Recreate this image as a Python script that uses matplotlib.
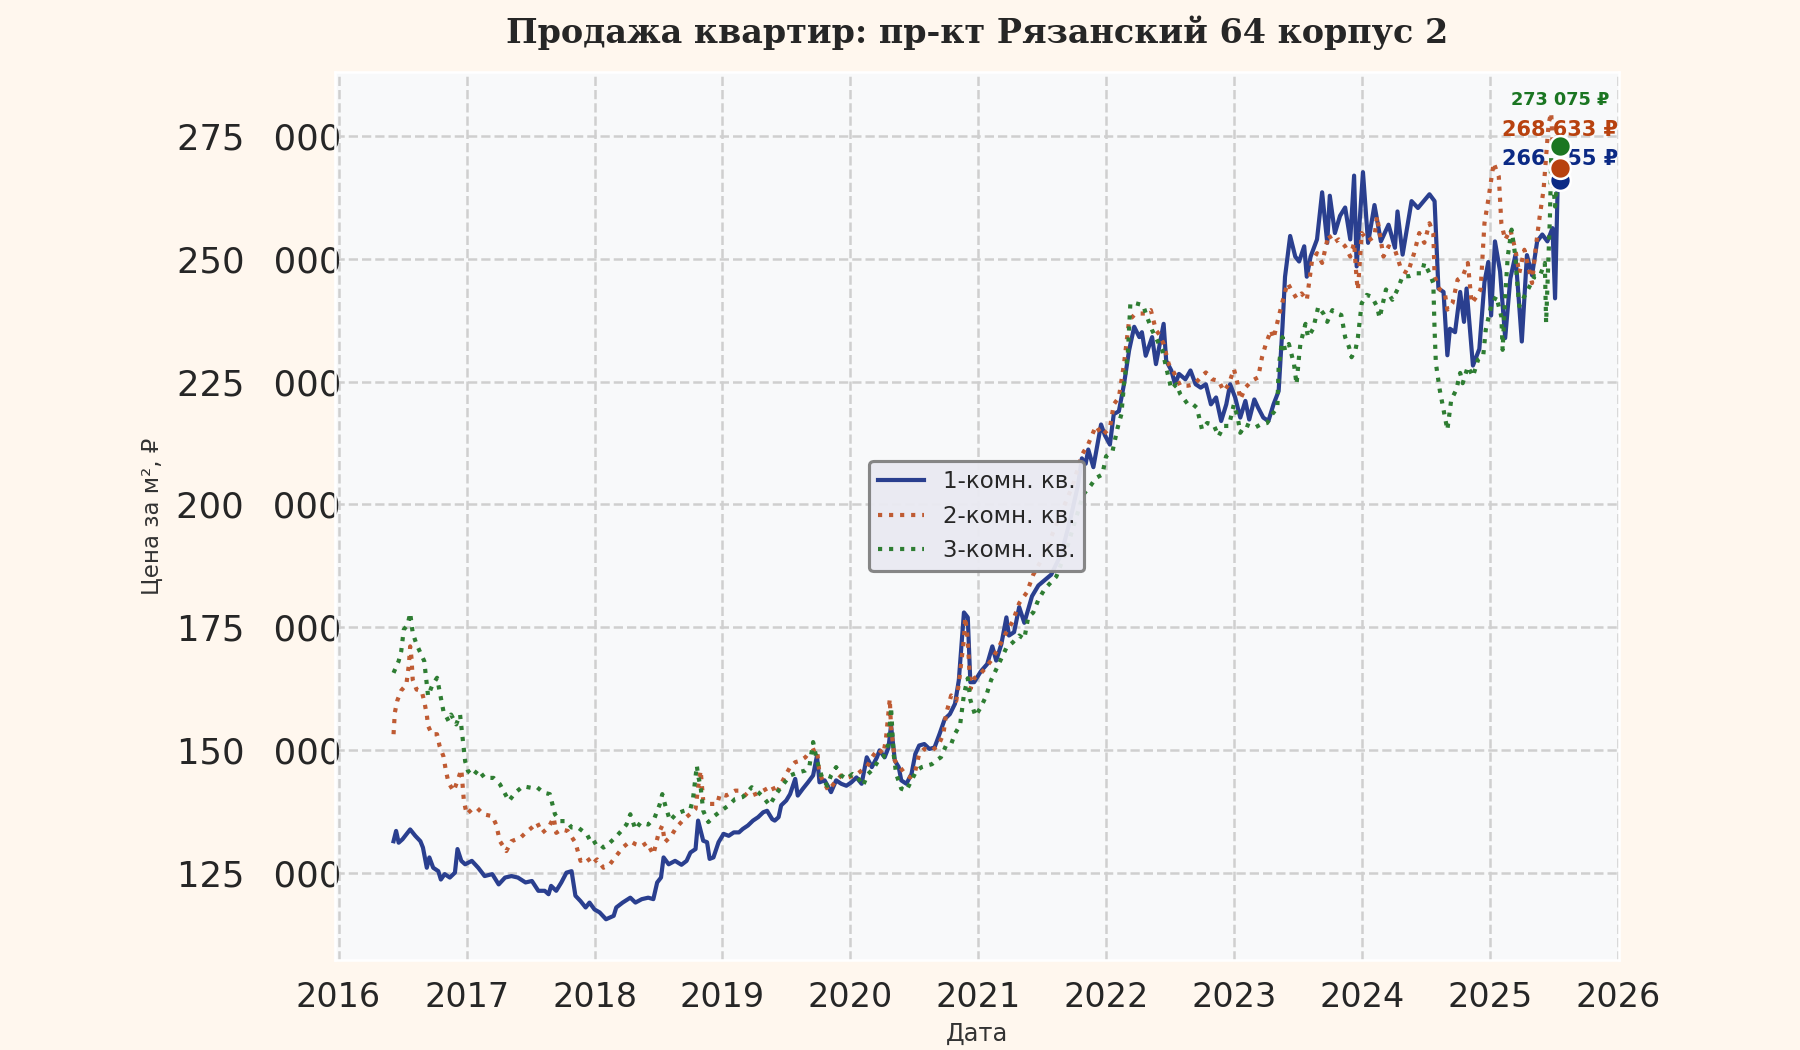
import datetime as dt
import matplotlib
matplotlib.use("Agg")
import matplotlib.pyplot as plt
from matplotlib.ticker import FuncFormatter, MultipleLocator
import matplotlib.dates as mdates

# --- data, time as fractional year ---
t1 = [2016.43, 2016.45, 2016.47, 2016.50, 2016.53, 2016.56, 2016.60, 2016.64, 2016.66, 2016.69,
      2016.71, 2016.74, 2016.78, 2016.80, 2016.83, 2016.87, 2016.91, 2016.93, 2016.96, 2016.99,
      2017.04, 2017.09, 2017.14, 2017.20, 2017.25, 2017.30, 2017.35, 2017.40, 2017.46, 2017.51,
      2017.56, 2017.61, 2017.64, 2017.66, 2017.70, 2017.74, 2017.78, 2017.82, 2017.85, 2017.89,
      2017.93, 2017.96, 2018.00, 2018.04, 2018.09, 2018.15, 2018.17, 2018.22, 2018.28, 2018.32,
      2018.37, 2018.42, 2018.46, 2018.49, 2018.52, 2018.54, 2018.58, 2018.63, 2018.68, 2018.72,
      2018.75, 2018.79, 2018.81, 2018.85, 2018.88, 2018.90, 2018.93, 2018.97, 2019.01, 2019.05,
      2019.09, 2019.13, 2019.16, 2019.20, 2019.24, 2019.28, 2019.32, 2019.35, 2019.39, 2019.41,
      2019.44, 2019.46, 2019.50, 2019.53, 2019.57, 2019.59, 2019.63, 2019.67, 2019.71, 2019.74,
      2019.76, 2019.80, 2019.83, 2019.85, 2019.89, 2019.93, 2019.97, 2020.01, 2020.05, 2020.09,
      2020.13, 2020.17, 2020.21, 2020.23, 2020.27, 2020.30, 2020.32, 2020.35, 2020.38, 2020.40,
      2020.44, 2020.48, 2020.51, 2020.54, 2020.58, 2020.62, 2020.66, 2020.70, 2020.74, 2020.78,
      2020.82, 2020.85, 2020.89, 2020.92, 2020.94, 2020.97, 2021.02, 2021.07, 2021.11, 2021.14,
      2021.18, 2021.22, 2021.24, 2021.28, 2021.32, 2021.36, 2021.42, 2021.47, 2021.52, 2021.57,
      2021.65, 2021.72, 2021.78, 2021.81, 2021.84, 2021.86, 2021.90, 2021.96, 2021.99, 2022.03,
      2022.06, 2022.10, 2022.14, 2022.18, 2022.22, 2022.26, 2022.28, 2022.31, 2022.36, 2022.39,
      2022.42, 2022.45, 2022.47, 2022.51, 2022.54, 2022.57, 2022.62, 2022.66, 2022.70, 2022.74,
      2022.78, 2022.82, 2022.86, 2022.90, 2022.94, 2022.97, 2023.01, 2023.05, 2023.09, 2023.12,
      2023.16, 2023.19, 2023.23, 2023.27, 2023.31, 2023.35, 2023.38, 2023.40, 2023.44, 2023.48,
      2023.51, 2023.55, 2023.57, 2023.60, 2023.65, 2023.69, 2023.73, 2023.75, 2023.79, 2023.83,
      2023.87, 2023.91, 2023.94, 2023.96, 2024.01, 2024.05, 2024.10, 2024.15, 2024.21, 2024.26,
      2024.28, 2024.32, 2024.39, 2024.44, 2024.53, 2024.57, 2024.60, 2024.64, 2024.67, 2024.69,
      2024.73, 2024.77, 2024.80, 2024.82, 2024.87, 2024.92, 2024.96, 2024.99, 2025.01, 2025.04,
      2025.08, 2025.12, 2025.16, 2025.20, 2025.22, 2025.25, 2025.29, 2025.33, 2025.37, 2025.41,
      2025.45, 2025.49, 2025.51, 2025.53, 2025.55]
v1 = [131400, 133500, 131100, 131800, 132800, 133800, 132500, 131400, 130100, 126000,
      128100, 126000, 125300, 123600, 124700, 124000, 125000, 129800, 127400, 126700,
      127400, 126000, 124300, 124700, 122600, 124000, 124300, 124000, 123000, 123300,
      121300, 121300, 120600, 122300, 121300, 123000, 125000, 125300, 120300, 119200,
      117900, 118900, 117500, 116900, 115500, 116200, 117900, 118900, 119900, 118900,
      119600, 119900, 119600, 123000, 124000, 128100, 126700, 127400, 126600, 127400,
      129100, 129800, 135600, 131500, 131200, 127800, 128100, 131200, 132900, 132500,
      133200, 133200, 133900, 134600, 135600, 136300, 137300, 137600, 135900, 135600,
      136300, 138700, 139700, 141000, 144100, 140700, 142100, 143400, 144800, 148800,
      143400, 143800, 142400, 141400, 143800, 143100, 142700, 143400, 144400, 143100,
      148500, 146500, 148500, 149900, 148500, 150500, 155000, 147800, 146500, 143800,
      143100, 145100, 149200, 150900, 151200, 150200, 150500, 153300, 156300, 157300,
      159400, 164200, 178000, 177000, 163800, 163800, 166000, 167500, 171100, 168200,
      171500, 177000, 173300, 174000, 179100, 175900, 181300, 183500, 184600, 185700,
      190000, 197000, 204000, 209400, 208300, 211200, 207600, 216300, 214100, 212200,
      218400, 219000, 224500, 231400, 236200, 234100, 235100, 230300, 234100, 228600,
      232700, 236800, 229300, 227300, 224500, 226600, 225500, 227300, 224500, 223800,
      224500, 220400, 221800, 217000, 220400, 224500, 221800, 217700, 221100, 217300,
      221400, 219700, 217700, 217000, 220400, 223100, 236200, 246400, 254700, 250500,
      249500, 252600, 246400, 250500, 254000, 263600, 253300, 262900, 255300, 258800,
      260500, 254000, 267000, 248500, 267700, 253300, 261000, 253600, 257000, 252300,
      259700, 250900, 261800, 260400, 263200, 261800, 244000, 243300, 230400, 235800,
      235100, 243300, 237200, 244000, 228300, 231700, 245300, 249400, 238500, 253600,
      247500, 233900, 246000, 250800, 244000, 233200, 250800, 246700, 253600, 255000,
      253600, 256300, 242000, 264500, 266155]

t2 = [2016.43, 2016.44, 2016.46, 2016.49, 2016.53, 2016.55, 2016.56, 2016.57, 2016.58, 2016.61,
      2016.65, 2016.67, 2016.69, 2016.70, 2016.73, 2016.77, 2016.79, 2016.82, 2016.84, 2016.86,
      2016.90, 2016.93, 2016.96, 2016.98, 2017.00, 2017.04, 2017.08, 2017.13, 2017.20, 2017.23,
      2017.26, 2017.31, 2017.35, 2017.42, 2017.46, 2017.51, 2017.55, 2017.59, 2017.64, 2017.68,
      2017.70, 2017.74, 2017.79, 2017.85, 2017.89, 2017.94, 2017.98, 2018.02, 2018.07, 2018.12,
      2018.17, 2018.22, 2018.28, 2018.32, 2018.37, 2018.41, 2018.46, 2018.50, 2018.53, 2018.55,
      2018.60, 2018.64, 2018.70, 2018.75, 2018.79, 2018.81, 2018.83, 2018.85, 2018.90, 2018.96,
      2018.98, 2019.03, 2019.10, 2019.15, 2019.20, 2019.26, 2019.32, 2019.39, 2019.42, 2019.46,
      2019.50, 2019.53, 2019.57, 2019.61, 2019.65, 2019.68, 2019.71, 2019.74, 2019.76, 2019.80,
      2019.83, 2019.88, 2019.93, 2019.98, 2020.04, 2020.09, 2020.13, 2020.17, 2020.22, 2020.26,
      2020.28, 2020.31, 2020.32, 2020.35, 2020.39, 2020.43, 2020.47, 2020.51, 2020.54, 2020.58,
      2020.64, 2020.69, 2020.73, 2020.75, 2020.79, 2020.83, 2020.85, 2020.89, 2020.90, 2020.92,
      2020.94, 2020.97, 2021.01, 2021.06, 2021.10, 2021.15, 2021.22, 2021.27, 2021.32, 2021.38,
      2021.43, 2021.50, 2021.58, 2021.66, 2021.74, 2021.81, 2021.86, 2021.92, 2021.97, 2022.03,
      2022.06, 2022.10, 2022.14, 2022.18, 2022.22, 2022.26, 2022.31, 2022.35, 2022.39, 2022.42,
      2022.45, 2022.49, 2022.53, 2022.58, 2022.64, 2022.69, 2022.74, 2022.78, 2022.83, 2022.88,
      2022.92, 2022.96, 2023.00, 2023.03, 2023.05, 2023.09, 2023.14, 2023.19, 2023.22, 2023.25,
      2023.29, 2023.31, 2023.35, 2023.39, 2023.42, 2023.45, 2023.49, 2023.53, 2023.57, 2023.61,
      2023.65, 2023.69, 2023.74, 2023.78, 2023.82, 2023.87, 2023.91, 2023.94, 2023.96, 2023.97,
      2024.00, 2024.05, 2024.10, 2024.12, 2024.17, 2024.21, 2024.26, 2024.31, 2024.36, 2024.41,
      2024.45, 2024.49, 2024.53, 2024.56, 2024.57, 2024.61, 2024.65, 2024.67, 2024.71, 2024.75,
      2024.79, 2024.83, 2024.86, 2024.90, 2024.93, 2024.96, 2024.99, 2025.03, 2025.07, 2025.09,
      2025.12, 2025.16, 2025.20, 2025.23, 2025.27, 2025.33, 2025.36, 2025.39, 2025.42, 2025.46,
      2025.48, 2025.50, 2025.55]
v2 = [153200, 157600, 160100, 162100, 163300, 167400, 171100, 168800, 164300, 162300,
      162000, 159900, 157200, 154900, 153200, 153200, 150800, 148700, 145700, 143300,
      141600, 143700, 146000, 139600, 136900, 137900, 138200, 136900, 136500, 134800,
      131400, 129400, 131400, 132100, 133100, 134200, 135200, 133100, 134200, 136200,
      133100, 133800, 133500, 131100, 127400, 128100, 126700, 127700, 126000, 126700,
      128400, 130100, 131400, 130800, 130400, 131100, 128700, 132900, 134600, 131200,
      132500, 134200, 135900, 137000, 138000, 142400, 145800, 139700, 139000, 139000,
      141000, 140700, 141700, 141700, 140400, 141000, 141700, 142700, 141000, 143100,
      145100, 146500, 147500, 147800, 148500, 149500, 149900, 150200, 145100, 143100,
      141700, 143400, 144800, 144400, 144800, 145800, 146500, 148500, 150200, 149200,
      152200, 160400, 154600, 147800, 146500, 145100, 144400, 145800, 149200, 150200,
      149900, 150900, 153300, 157300, 161100, 160000, 163500, 172600, 177000, 172600,
      162400, 164600, 165300, 166800, 168200, 170400, 174000, 176200, 179900, 182100,
      185700, 189000, 194000, 199000, 204000, 210100, 212300, 216000, 214100, 215600,
      220400, 221800, 228600, 237500, 238600, 238900, 238900, 239600, 235500, 234500,
      232700, 228600, 226900, 224200, 224200, 224500, 225900, 226900, 225500, 225200,
      223100, 224500, 227600, 224500, 221400, 223800, 225200, 225900, 230000, 232700,
      235500, 233800, 238200, 242300, 245100, 243700, 242000, 243000, 241600, 249500,
      251200, 249200, 255000, 253300, 254000, 252600, 250500, 253300, 245800, 243700,
      255300, 253700, 254600, 258700, 250500, 252600, 251900, 247800, 247100, 251200,
      255300, 253300, 257300, 255300, 246500, 243800, 243100, 239700, 241000, 245800,
      246500, 249200, 241000, 242400, 243800, 257300, 262100, 269600, 266800, 257300,
      253900, 256000, 251900, 247100, 251900, 245100, 252600, 258700, 264100, 277700,
      279800, 267500, 268633]

t3 = [2016.43, 2016.47, 2016.49, 2016.51, 2016.54, 2016.56, 2016.58, 2016.61, 2016.64, 2016.67,
      2016.69, 2016.70, 2016.73, 2016.77, 2016.79, 2016.82, 2016.86, 2016.88, 2016.92, 2016.95,
      2016.97, 2016.99, 2017.01, 2017.05, 2017.09, 2017.14, 2017.21, 2017.26, 2017.33, 2017.38,
      2017.44, 2017.50, 2017.55, 2017.60, 2017.65, 2017.69, 2017.73, 2017.78, 2017.82, 2017.87,
      2017.94, 2017.98, 2018.02, 2018.07, 2018.12, 2018.16, 2018.21, 2018.25, 2018.28, 2018.32,
      2018.36, 2018.42, 2018.47, 2018.51, 2018.53, 2018.55, 2018.59, 2018.64, 2018.70, 2018.75,
      2018.77, 2018.80, 2018.81, 2018.83, 2018.85, 2018.89, 2018.94, 2018.99, 2019.05, 2019.10,
      2019.16, 2019.23, 2019.28, 2019.32, 2019.37, 2019.42, 2019.48, 2019.53, 2019.59, 2019.65,
      2019.68, 2019.71, 2019.74, 2019.78, 2019.82, 2019.85, 2019.89, 2019.93, 2019.97, 2020.02,
      2020.06, 2020.10, 2020.14, 2020.18, 2020.22, 2020.26, 2020.30, 2020.32, 2020.34, 2020.36,
      2020.40, 2020.44, 2020.48, 2020.52, 2020.56, 2020.60, 2020.64, 2020.67, 2020.71, 2020.75,
      2020.79, 2020.82, 2020.86, 2020.89, 2020.92, 2020.94, 2020.98, 2021.02, 2021.06, 2021.10,
      2021.14, 2021.18, 2021.22, 2021.27, 2021.32, 2021.36, 2021.39, 2021.43, 2021.47, 2021.52,
      2021.57, 2021.61, 2021.68, 2021.75, 2021.82, 2021.88, 2021.92, 2021.97, 2022.00, 2022.05,
      2022.09, 2022.12, 2022.14, 2022.17, 2022.19, 2022.23, 2022.29, 2022.32, 2022.36, 2022.40,
      2022.44, 2022.47, 2022.51, 2022.55, 2022.58, 2022.64, 2022.68, 2022.71, 2022.75, 2022.79,
      2022.84, 2022.88, 2022.92, 2022.96, 2023.00, 2023.03, 2023.05, 2023.09, 2023.16, 2023.21,
      2023.26, 2023.30, 2023.34, 2023.35, 2023.38, 2023.40, 2023.43, 2023.47, 2023.49, 2023.51,
      2023.52, 2023.56, 2023.58, 2023.62, 2023.66, 2023.70, 2023.73, 2023.77, 2023.81, 2023.84,
      2023.87, 2023.90, 2023.92, 2023.95, 2023.97, 2024.00, 2024.04, 2024.08, 2024.12, 2024.14,
      2024.19, 2024.24, 2024.28, 2024.32, 2024.37, 2024.43, 2024.47, 2024.49, 2024.53, 2024.56,
      2024.57, 2024.58, 2024.61, 2024.64, 2024.66, 2024.67, 2024.70, 2024.74, 2024.77, 2024.79,
      2024.83, 2024.87, 2024.91, 2024.95, 2024.97, 2025.01, 2025.05, 2025.09, 2025.10, 2025.12,
      2025.14, 2025.17, 2025.20, 2025.21, 2025.23, 2025.27, 2025.31, 2025.35, 2025.39, 2025.43,
      2025.44, 2025.47, 2025.48, 2025.51, 2025.55]
v3 = [165700, 168100, 170100, 174500, 175500, 177900, 173800, 171500, 169800, 168100,
      163300, 161000, 163000, 164700, 162000, 157900, 155900, 157200, 155200, 157200,
      152500, 147700, 145700, 144700, 146000, 144300, 144300, 143000, 139600, 141300,
      142600, 142300, 142400, 141300, 141000, 136900, 135500, 135500, 134200, 134200,
      132800, 130800, 131400, 130100, 131100, 132100, 133500, 134800, 136900, 133800,
      135200, 134800, 136200, 138900, 141000, 139000, 135600, 137000, 137600, 138000,
      140000, 146800, 144800, 142400, 137600, 135300, 136600, 137600, 138700, 140000,
      140400, 142400, 141400, 140400, 138700, 141000, 143100, 144800, 145400, 145800,
      146500, 151600, 147800, 144400, 142700, 144800, 146500, 144800, 144100, 145100,
      144400, 142700, 145100, 146100, 147800, 148500, 151200, 158700, 149200, 145100,
      142100, 141700, 143800, 145800, 146500, 146800, 147100, 147800, 148500, 150900,
      151200, 153300, 155100, 161300, 164600, 160200, 156900, 158700, 160900, 164200,
      166400, 168600, 170800, 171900, 173300, 172600, 177000, 178000, 180600, 182800,
      184200, 185300, 190000, 196000, 202000, 203900, 205400, 206100, 209800, 210800,
      215600, 218400, 224500, 230700, 241000, 241000, 240600, 238200, 235500, 233400,
      231400, 227900, 223500, 224500, 222500, 220400, 220400, 219700, 215300, 216600,
      216300, 213900, 216000, 216000, 220400, 217700, 214600, 216300, 215600, 216300,
      216600, 218400, 219700, 227900, 234100, 231400, 232700, 228600, 224500, 230300,
      232700, 236800, 234100, 235800, 240300, 238900, 237200, 239600, 238900, 238600,
      234100, 232100, 230000, 231400, 234100, 241000, 242700, 242300, 240300, 238000,
      243800, 241700, 243800, 246500, 246500, 247100, 247100, 249200, 247100, 245100,
      235600, 228800, 223400, 219300, 216600, 215200, 221300, 223400, 226800, 224700,
      228100, 226100, 229500, 230200, 235600, 240400, 242400, 238300, 231500, 242400,
      250500, 256000, 250500, 246500, 240400, 242400, 244400, 246500, 246500, 249200,
      237000, 258700, 270900, 260700, 273075]

labels = ["1-комн. кв.", "2-комн. кв.", "3-комн. кв."]
line_colors = ["#2a3f8f", "#bf5b33", "#2e7d32"]
dot_colors = ["#0b2a85", "#b8420f", "#1b7622"]
title = "Продажа квартир: пр-кт Рязанский 64 корпус 2"


def to_date(y):
    year = int(y)
    return dt.datetime(year, 1, 1) + dt.timedelta(days=(y - year) * 365.25)


def rub(x, sep=" "):
    return f"{int(round(x)):,}".replace(",", sep)


fig = plt.figure(figsize=(12, 7), dpi=150, facecolor="#fff7ee")
ax = fig.add_axes([0.186, 0.0857, 0.7134, 0.8457])
ax.set_facecolor("#f8f9fa")
for s in ax.spines.values():
    s.set_color("white")
    s.set_linewidth(1.25)

series = [(t1, v1, "-"), (t2, v2, ":"), (t3, v3, ":")]
for (t, v, ls), lab, col in zip(series, labels, line_colors):
    ax.plot([to_date(x) for x in t], v, linestyle=ls, color=col, lw=2, label=lab, zorder=3)

# last values: marker + label
offsets = [10, 18, 22]
sizes = [10, 10, 8.5]
for (t, v, ls), col, off, fs in zip(series, dot_colors, offsets, sizes):
    d = to_date(t[-1])
    ax.scatter([d], [v[-1]], s=100, color=col, edgecolor="white", linewidth=1.2, zorder=5)
    ax.annotate(rub(v[-1]) + " ₽", (d, v[-1]), xytext=(0, off), textcoords="offset points",
                ha="center", va="center", fontsize=fs, fontweight="bold", color=col, zorder=2.5)

ax.set_xlim(to_date(2015.97), to_date(2026.01))
ax.set_ylim(107200, 288100)
ax.xaxis.set_major_locator(mdates.YearLocator())
ax.xaxis.set_major_formatter(mdates.DateFormatter("%Y"))
ax.yaxis.set_major_locator(MultipleLocator(25000))
ax.yaxis.set_major_formatter(FuncFormatter(lambda x, pos: rub(x, "\u2002 ")))
ax.tick_params(axis="both", length=0, labelsize=16, colors="#262626")
ax.tick_params(axis="x", pad=10)
ax.tick_params(axis="y", labelsize=17, pad=-3)
ax.grid(True, linestyle="--", color="#cfcfcf", linewidth=1.2)
ax.set_axisbelow(True)

ax.set_xlabel("Дата", fontsize=11.5, color="#333333", labelpad=4)
ax.set_ylabel("Цена за м², ₽", fontsize=11, color="#333333", labelpad=6)
ax.set_title(title, fontsize=16, fontweight="bold", family="DejaVu Serif", color="#262626", pad=14)

leg = ax.legend(loc="center", fontsize=11, facecolor="#eaeaf2", edgecolor="#808080",
                framealpha=0.95, handlelength=2)
leg.get_frame().set_linewidth(1.5)
for txt in leg.get_texts():
    txt.set_color("#262626")

fig.savefig("out.png", dpi=150, facecolor=fig.get_facecolor())
